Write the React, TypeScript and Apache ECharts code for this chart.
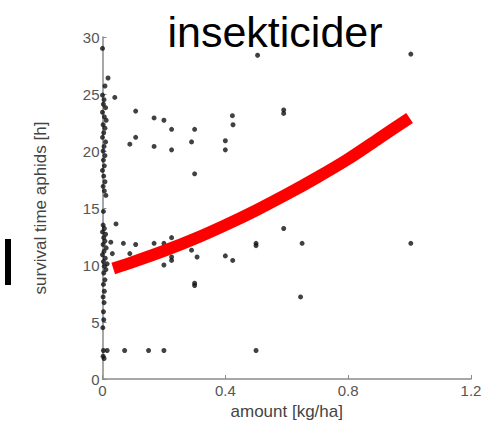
import React, { useEffect, useRef } from "react";
import * as echarts from "echarts";

const titleText = "insekticider";
const xAxisName = "amount [kg/ha]";
const yAxisName = "survival time aphids [h]";

// scatter: amount [kg/ha], survival time [h]
const scatterColumn: number[][] = [
  [0.0, 29.0], [0.018, 26.4], [0.008, 25.7], [0.0, 24.9], [0.005, 24.5], [0.003, 24.1],
  [0.01, 23.8], [0.0, 23.4], [0.006, 23.0], [0.012, 22.7], [0.002, 22.3], [0.008, 22.0],
  [0.004, 21.6], [0.0, 21.2], [0.01, 20.8], [0.005, 20.4], [0.002, 20.0], [0.008, 19.6],
  [0.003, 19.2], [0.006, 18.7], [0.0, 18.3], [0.004, 17.8], [0.008, 17.3], [0.002, 16.9],
  [0.006, 16.5], [0.011, 16.1], [0.003, 14.7], [0.002, 13.5], [0.006, 13.2], [0.0, 12.9],
  [0.01, 12.7], [0.004, 12.4], [0.008, 12.1], [0.002, 11.8], [0.012, 11.5], [0.005, 11.2],
  [0.0, 10.9], [0.009, 10.6], [0.003, 10.3], [0.015, 10.1], [0.006, 9.9], [0.011, 9.6],
  [0.004, 9.3], [0.008, 8.7], [0.003, 8.3], [0.006, 7.7], [0.002, 7.2], [0.005, 6.7],
  [0.003, 5.9], [0.004, 5.2], [0.001, 4.5], [0.003, 2.5], [0.015, 2.5], [0.002, 2.0],
  [0.005, 1.8],
];

const scatterOthers: number[][] = [
  [0.04, 24.7], [0.108, 23.5], [0.168, 22.9], [0.2, 22.7], [0.225, 21.9], [0.3, 21.9],
  [0.108, 21.2], [0.089, 20.6], [0.168, 20.4], [0.225, 20.1], [0.29, 20.8], [0.3, 18.0],
  [0.505, 28.4], [1.004, 28.5], [0.423, 23.1], [0.425, 22.3], [0.4, 20.9], [0.4, 20.1],
  [0.59, 23.6], [0.59, 23.3], [0.044, 13.6], [0.027, 12.0], [0.068, 11.9], [0.108, 11.8],
  [0.168, 11.9], [0.2, 11.9], [0.225, 12.4], [0.032, 11.0], [0.089, 11.0], [0.2, 10.0],
  [0.225, 10.7], [0.225, 10.4], [0.29, 11.3], [0.308, 10.7], [0.3, 8.4], [0.3, 8.2],
  [0.072, 2.5], [0.15, 2.5], [0.2, 2.5], [0.4, 10.8], [0.424, 10.4], [0.5, 11.9],
  [0.5, 11.7], [0.59, 13.2], [0.65, 11.9], [0.645, 7.2], [1.004, 11.9], [0.5, 2.5],
];

// fitted curve
const curveX = [0.035, 0.1, 0.2, 0.3, 0.4, 0.5, 0.6, 0.7, 0.8, 0.9, 1.0];
const curveY = [9.7, 10.27, 11.23, 12.3, 13.5, 14.8, 16.2, 17.7, 19.3, 21.1, 22.9];

const xTicks = { min: 0, max: 1.2, interval: 0.4 };
const yTicks = { min: 0, max: 30, interval: 5 };

export default function App() {
  const ref = useRef<HTMLDivElement>(null);
  useEffect(() => {
    if (!ref.current) return;
    const chart = echarts.init(ref.current, undefined, { renderer: "svg" });
    const axisGrey = "#8a8a8a";
    const labelGrey = "#555";
    const font = "Liberation Sans, Arial, sans-serif";
    chart.setOption({
      animation: false,
      backgroundColor: "#fff",
      title: {
        text: titleText,
        left: 270,
        top: 5,
        textAlign: "center",
        textStyle: { fontSize: 43, fontWeight: "normal", color: "#000", fontFamily: font },
      },
      grid: { left: 102.5, right: 20, top: 37, bottom: 48 },
      xAxis: {
        type: "value",
        min: xTicks.min,
        max: xTicks.max,
        interval: xTicks.interval,
        name: xAxisName,
        nameLocation: "middle",
        nameGap: 24,
        nameTextStyle: { fontSize: 17, color: "#444", fontFamily: font },
        axisLine: { show: true, lineStyle: { color: axisGrey, width: 1.5 } },
        axisTick: { show: true, inside: true, length: 4, lineStyle: { color: axisGrey } },
        axisLabel: {
          fontSize: 15,
          color: labelGrey,
          fontFamily: font,
          margin: 4,
          formatter: (v: number) => (v === 0 ? "0" : String(Math.round(v * 10) / 10)),
        },
        splitLine: { show: false },
      },
      yAxis: {
        type: "value",
        min: yTicks.min,
        max: yTicks.max,
        interval: yTicks.interval,
        name: yAxisName,
        nameLocation: "middle",
        nameGap: 54,
        nameRotate: 90,
        nameTextStyle: { fontSize: 17, color: "#444", fontFamily: font },
        axisLine: { show: true, lineStyle: { color: axisGrey, width: 1.5 } },
        axisTick: { show: true, inside: true, length: 4, lineStyle: { color: axisGrey } },
        axisLabel: { fontSize: 15, color: labelGrey, fontFamily: font, margin: 3 },
        splitLine: { show: false },
      },
      graphic: [
        { type: "rect", shape: { x: 5, y: 239, width: 6, height: 46 }, style: { fill: "#000" } },
      ],
      series: [
        {
          type: "scatter",
          data: scatterColumn,
          symbol: "circle",
          symbolSize: 5,
          itemStyle: { color: "#111" },
        },
        {
          type: "scatter",
          data: scatterOthers,
          symbol: "circle",
          symbolSize: 5,
          itemStyle: { color: "#111" },
        },
        {
          type: "line",
          data: curveX.map((x, i) => [x, curveY[i]]),
          smooth: 0.3,
          showSymbol: false,
          symbol: "none",
          lineStyle: { color: "#ff0000", width: 12, cap: "butt", join: "round" },
          z: 5,
        },
      ],
    });
    return () => chart.dispose();
  }, []);
  return (
    <div
      ref={ref}
      style={{ position: "absolute", left: 0, top: 0, width: 491, height: 427 }}
    />
  );
}
